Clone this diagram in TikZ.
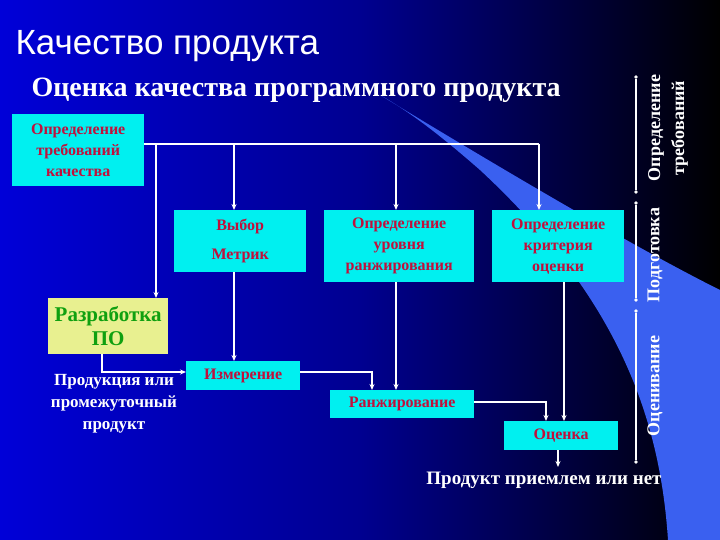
\documentclass[tikz,border=0pt]{standalone}
\usepackage{fontspec}
\setmainfont{Liberation Serif}
\newfontfamily\titlefont{Liberation Sans}
\usetikzlibrary{arrows.meta}
\definecolor{boxc}{HTML}{00F0F0}
\definecolor{redt}{HTML}{C0103C}
\definecolor{yel}{HTML}{E8F090}
\definecolor{grn}{HTML}{10A010}
\definecolor{bgL}{HTML}{0000D8}
\definecolor{bgM}{HTML}{000090}
\definecolor{sw}{HTML}{3A60F0}
\begin{document}
\begin{tikzpicture}[x=1pt,y=-1pt,
  bx/.style={fill=boxc,draw=none,text=redt,font=\bfseries\fontsize{16}{21}\selectfont,align=center,inner sep=0pt,anchor=north west},
  ln/.style={draw=white,line width=1.2pt},
  ar/.style={ln,-{Stealth[length=6pt,width=5pt]}},
  wt/.style={text=white,font=\bfseries\fontsize{17}{22}\selectfont,align=center},
  dt/.style={circle,fill=white,inner sep=1.3pt}]
\useasboundingbox (0,0) rectangle (720,540);
\shade[left color=bgL,right color=black,middle color=bgM] (0,0) rectangle (720,540);
\fill[sw] (380,95) .. controls (520,180) and (640,250) .. (720,290) -- (720,540) -- (668,540) .. controls (660,420) and (620,300) .. (480,170) .. controls (440,135) and (410,112) .. (380,95) -- cycle;
\node[text=white,font=\titlefont\fontsize{35}{40}\selectfont,anchor=west] (title) at (12,46) {Качество продукта};
\node[text=white,font=\bfseries\fontsize{28}{32}\selectfont,anchor=west] (sub) at (28,90) {Оценка качества программного продукта};
\node[bx,minimum width=132pt,minimum height=72pt] (req) at (12,114) {Определение\\требований\\качества};
\node[bx,minimum width=132pt,minimum height=62pt] (vyb) at (174,210) {Выбор\\[8pt]Метрик};
\node[bx,minimum width=150pt,minimum height=72pt] (ur) at (324,210) {Определение\\уровня\\ранжирования};
\node[bx,minimum width=132pt,minimum height=72pt] (kr) at (492,210) {Определение\\критерия\\оценки};
\node[bx,fill=yel,text=grn,font=\bfseries\fontsize{21}{24}\selectfont,minimum width=120pt,minimum height=56pt] (po) at (48,298) {Разработка\\ПО};
\node[bx,minimum width=114pt,minimum height=29pt] (izm) at (186,361) {Измерение};
\node[bx,minimum width=144pt,minimum height=28pt] (ran) at (330,390) {Ранжирование};
\node[bx,minimum width=114pt,minimum height=29pt] (oc) at (504,421) {Оценка};
\node[wt] (prod) at (114,404) {Продукция или\\промежуточный\\продукт};
\node[wt,font=\bfseries\fontsize{19}{22}\selectfont] (res) at (544,480) {Продукт приемлем или нет};
\coordinate (tr) at (539,144);
\draw[ln] (req.east |- tr) -- (tr);
\draw[ar] (156,144) -- (po.north -| 156,0);
\draw[ar] (234,144) -- (vyb.north -| 234,0);
\draw[ar] (396,144) -- (ur.north -| 396,0);
\draw[ar] (tr) -- (kr.north -| tr);
\draw[ar] (vyb.south -| 234,0) -- (izm.north -| 234,0);
\draw[ar] (po.south -| 102,0) -- (102,372) -- (izm.west |- 0,372);
\draw[ar] (izm.east |- 0,372) -- (372,372) -- (ran.north -| 372,0);
\draw[ar] (ur.south -| 396,0) -- (ran.north -| 396,0);
\draw[ar] (ran.east |- 0,402) -- (546,402) -- (oc.north -| 546,0);
\draw[ar] (kr.south -| 564,0) -- (oc.north -| 564,0);
\draw[ar] (oc.south -| 558,0) -- (558,467);
% phase bar
\node[dt] (d1) at (636,77) {};
\node[dt] (d2) at (636,192) {};
\node[dt] (d3) at (636,203) {};
\node[dt] (d4) at (636,300) {};
\node[dt] (d5) at (636,311) {};
\node[dt] (d6) at (636,462) {};
\draw[ln] (d1) -- (d2); \draw[ln] (d3) -- (d4); \draw[ln] (d5) -- (d6);
\node[wt,rotate=90,font=\bfseries\fontsize{18}{24}\selectfont] (l1) at (668,128) {Определение\\требований};
\node[wt,rotate=90,font=\bfseries\fontsize{18}{20}\selectfont] (l2) at (655,255) {Подготовка};
\node[wt,rotate=90,font=\bfseries\fontsize{18}{20}\selectfont] (l3) at (655,386) {Оценивание};
\end{tikzpicture}
\end{document}
